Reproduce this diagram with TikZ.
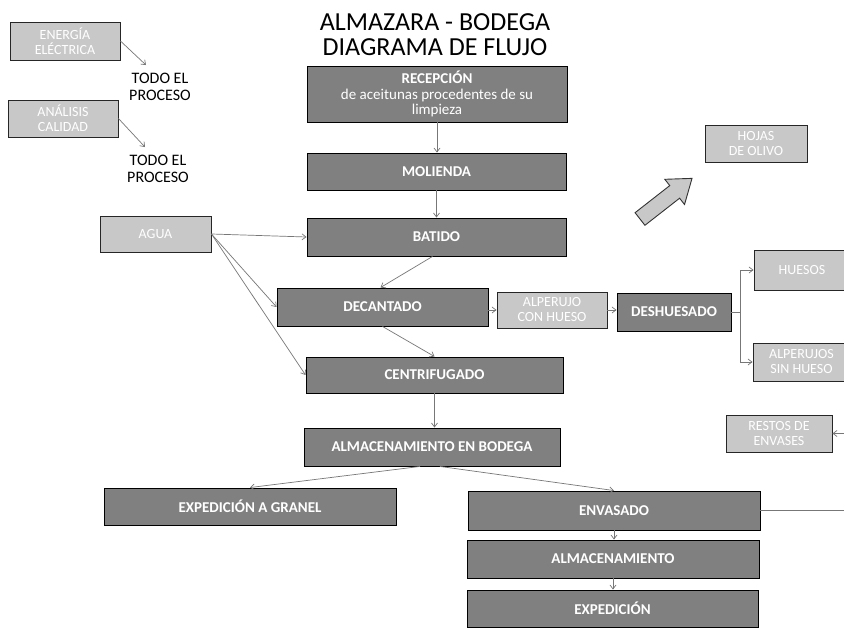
\documentclass[tikz,border=0pt]{standalone}
\usepackage{fontspec}
\setmainfont{Carlito}
\usetikzlibrary{arrows.meta,calc}
\definecolor{dk}{HTML}{808080}
\definecolor{lt}{HTML}{C8C8C8}
\definecolor{ln}{HTML}{777777}
\begin{document}
\begin{tikzpicture}[x=1pt,y=-1pt,
  dbox/.style={draw=black, line width=0.9pt, fill=dk, text=white, font=\fontsize{15}{15.5}\selectfont\bfseries, inner sep=1pt, align=center},
  lbox/.style={draw=black!85, line width=0.9pt, fill=lt, text=white, font=\fontsize{14}{15}\selectfont, inner sep=1pt, align=center},
  plain/.style={text=black, font=\fontsize{16}{17}\selectfont, align=center, inner sep=0pt},
  conn/.style={draw=ln, line width=0.7pt, -{Straight Barb[length=4pt,width=6pt]}},
  bigarrow/.style={draw=black!80, line width=0.9pt, fill=lt}]
\useasboundingbox[fill=white] (0,0) rectangle (844,628);

% title
\node[plain, font=\fontsize{26}{25}\selectfont] (title) at (435,35) {ALMAZARA - BODEGA\\DIAGRAMA DE FLUJO};

% left inputs
\node[lbox, minimum width=110pt, minimum height=38pt] (ener) at (65,41) {ENERGÍA\\ELÉCTRICA};
\node[lbox, minimum width=110pt, minimum height=37pt] (anal) at (63,118.5) {ANÁLISIS\\CALIDAD};
\node[plain] (todo1) at (160,87) {TODO EL\\PROCESO};
\node[plain] (todo2) at (158,169) {TODO EL\\PROCESO};
\node[lbox, minimum width=111pt, minimum height=36pt] (agua) at (155.5,234) {AGUA};

% main chain
\node[dbox, minimum width=260pt, minimum height=56pt] (rec) at (437,94)
  {RECEPCIÓN\\{\mdseries de aceitunas procedentes de su}\\{\mdseries limpieza}};
\node[dbox, minimum width=259pt, minimum height=37pt] (mol) at (436.5,171.5) {MOLIENDA};
\node[dbox, minimum width=259pt, minimum height=38pt] (bat) at (436.5,237) {BATIDO};
\node[dbox, minimum width=211pt, minimum height=38pt] (dec) at (382.5,307) {DECANTADO};
\node[lbox, minimum width=110pt, minimum height=36pt] (alp) at (552,310) {ALPERUJO\\CON HUESO};
\node[dbox, minimum width=114pt, minimum height=38pt] (desh) at (674,312) {DESHUESADO};
\node[lbox, minimum width=96pt, minimum height=40pt] (hues) at (802,270) {HUESOS};
\node[lbox, minimum width=97pt, minimum height=38pt] (ash) at (801.5,362) {ALPERUJOS\\SIN HUESO};
\node[lbox, minimum width=102pt, minimum height=37pt] (hojas) at (756,143.5) {HOJAS\\DE OLIVO};
\node[dbox, minimum width=257pt, minimum height=36pt] (cen) at (434.5,375) {CENTRIFUGADO};
\node[dbox, minimum width=256pt, minimum height=38pt] (alm) at (432,447) {ALMACENAMIENTO EN BODEGA};
\node[dbox, minimum width=292pt, minimum height=37pt] (gran) at (250,506.5) {EXPEDICIÓN A GRANEL};
\node[dbox, minimum width=292pt, minimum height=39pt] (env) at (614,510.5) {ENVASADO};
\node[dbox, minimum width=292pt, minimum height=38pt] (alm2) at (613,559) {ALMACENAMIENTO};
\node[dbox, minimum width=291pt, minimum height=37pt] (exp) at (612.5,608.5) {EXPEDICIÓN};
\node[lbox, minimum width=106pt, minimum height=37pt] (restos) at (779,433.5) {RESTOS DE\\ENVASES};

\coordinate (envout) at (850,510.5);
\coordinate (restin) at (850,433.5);

% hollow arrow
\begin{scope}[shift={(640,219)}, rotate=38]
  \draw[bigarrow] (0,-8) -- (44,-8) -- (44,-16) -- (66,0) -- (44,16) -- (44,8) -- (0,8) -- cycle;
\end{scope}

% connectors
\draw[conn] (ener.east) -- ($(todo1.north)+(-14,-8)$);
\draw[conn] (anal.east) -- ($(todo2.north)+(-13,-8)$);
\draw[conn] (rec.south) -- (rec.south |- mol.north);
\draw[conn] (mol.south) -- (mol.north |- bat.north);
\draw[conn] ($(bat.south)+(-4,0)$) -- ($(dec.north)+(-2,0)$);
\draw[conn] (dec.south) -- (cen.north);
\draw[conn] (agua.east) -- (bat.west);
\draw[conn] (agua.east) -- (dec.west);
\draw[conn] (agua.east) -- (cen.west);
\draw[conn] (dec.east |- alp.west) -- (alp.west);
\draw[conn] (alp.east) -- (desh.west |- alp.east);
\draw[conn] (desh.east) -- ++(9,0) |- (hues.west);
\draw[conn] (desh.east) -- ++(9,0) |- (ash.west);
\draw[conn] (cen.south) -- (cen.south |- alm.north);
\draw[conn] ($(alm.south)+(-12,0)$) -- (gran.north);
\draw[conn] ($(alm.south)+(8,0)$) -- (env.north);
\draw[conn] (env.south) -- (env.south |- alm2.north);
\draw[conn] (alm2.south) -- (alm2.south |- exp.north);
\draw[draw=ln, line width=0.7pt] (env.east) -- (envout);
\draw[conn] (restin) -- (restos.east);
\end{tikzpicture}
\end{document}
